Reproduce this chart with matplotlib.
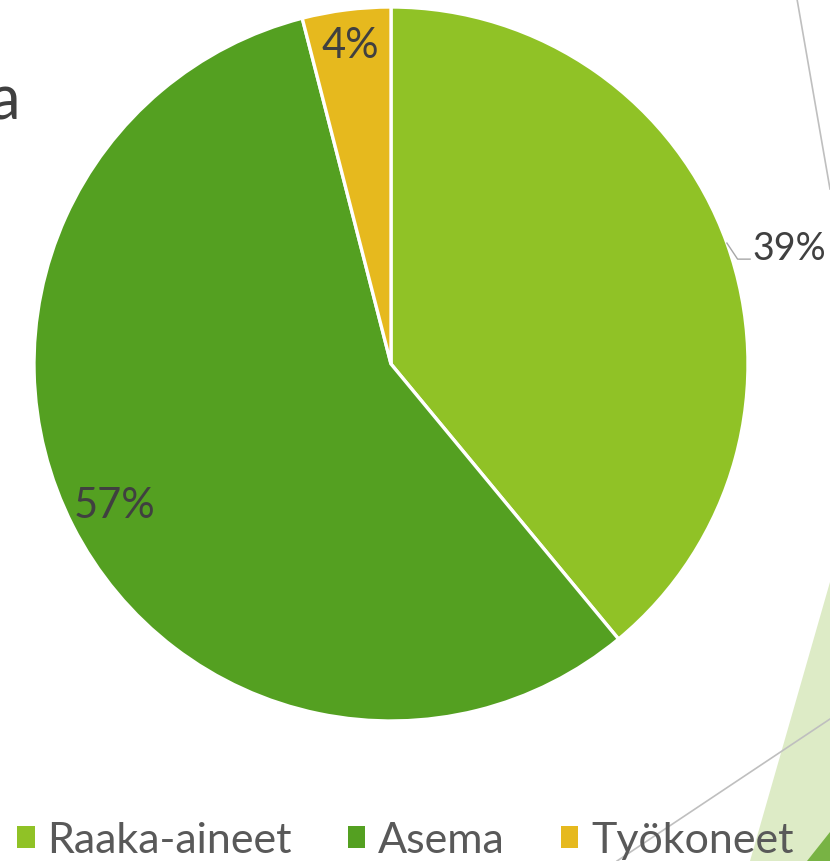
import numpy as np
import matplotlib
matplotlib.use("Agg")
import matplotlib.pyplot as plt
from matplotlib.patches import Polygon
from matplotlib.lines import Line2D

labels = ["Raaka-aineet", "Asema", "Työkoneet"]
shares = [39, 57, 4]
colors = ["#90C226", "#54A021", "#E6B91E"]

plt.rcParams["font.family"] = ["Lato", "DejaVu Sans"]
TXT = "#404040"

W, H = 830, 862
fig = plt.figure(figsize=(W / 100, H / 100), dpi=100)

# slide decorations behind the chart (cropped slide)
def px(x, y):
    return (x / W, 1 - y / H)

fig.patches.append(Polygon([px(830, 583), px(750, 862), px(830, 862)], closed=True,
                           transform=fig.transFigure, fc="#DDEBC6", ec="none", zorder=0))
fig.patches.append(Polygon([px(830, 833), px(807, 862), px(830, 862)], closed=True,
                           transform=fig.transFigure, fc="#78B344", ec="none", zorder=0))
fig.lines.append(Line2D(*zip(px(830, 720), px(617, 862)), transform=fig.transFigure,
                        color="#BFBFBF", lw=1.2, zorder=0.5))
fig.lines.append(Line2D(*zip(px(797, 0), px(830, 190)), transform=fig.transFigure,
                        color="#BFBFBF", lw=1.2, zorder=0.5))
fig.text(*px(20, 120), "a", ha="right", va="baseline", fontsize=44, color=TXT)

# pie: centre (391, 365), radius 357 px
R = 357
ax = fig.add_axes([(391 - R) / W, (H - 365 - R) / H, 2 * R / W, 2 * R / H])
wedges, _ = ax.pie(shares, colors=colors, startangle=90, counterclock=False,
                   radius=1, wedgeprops=dict(edgecolor="white", linewidth=2.4))
ax.set_xlim(-1, 1)
ax.set_ylim(-1, 1)
ax.set_aspect("equal")
ax.axis("off")

for i, w in enumerate(wedges):
    mid = np.deg2rad((w.theta1 + w.theta2) / 2)
    c, s = np.cos(mid), np.sin(mid)
    lab = f"{shares[i]}%"
    if i == 0:
        # outside label with leader line
        ax.plot([c, c + 0.03, c + 0.065], [s, s - 0.045, s - 0.045],
                color="#A6A6A6", lw=1, clip_on=False)
        ax.text(c + 0.072, s - 0.045, lab, ha="left", va="baseline",
                fontsize=27, color=TXT, clip_on=False)
    else:
        r = 0.9 if i == 2 else 0.87
        ax.text(r * c, r * s, lab, ha="center", va="center", fontsize=30, color=TXT)

leg = fig.legend(wedges, labels, loc="center left", bbox_to_anchor=(0.021, 0.024), ncol=3,
                 frameon=False, fontsize=31, handlelength=0.4, handleheight=0.4,
                 handletextpad=0.3, columnspacing=1.3, borderaxespad=0, borderpad=0)
for t in leg.get_texts():
    t.set_color("#595959")
for h in leg.legend_handles:
    h.set_edgecolor("none")

fig.savefig("out.png", dpi=100)
